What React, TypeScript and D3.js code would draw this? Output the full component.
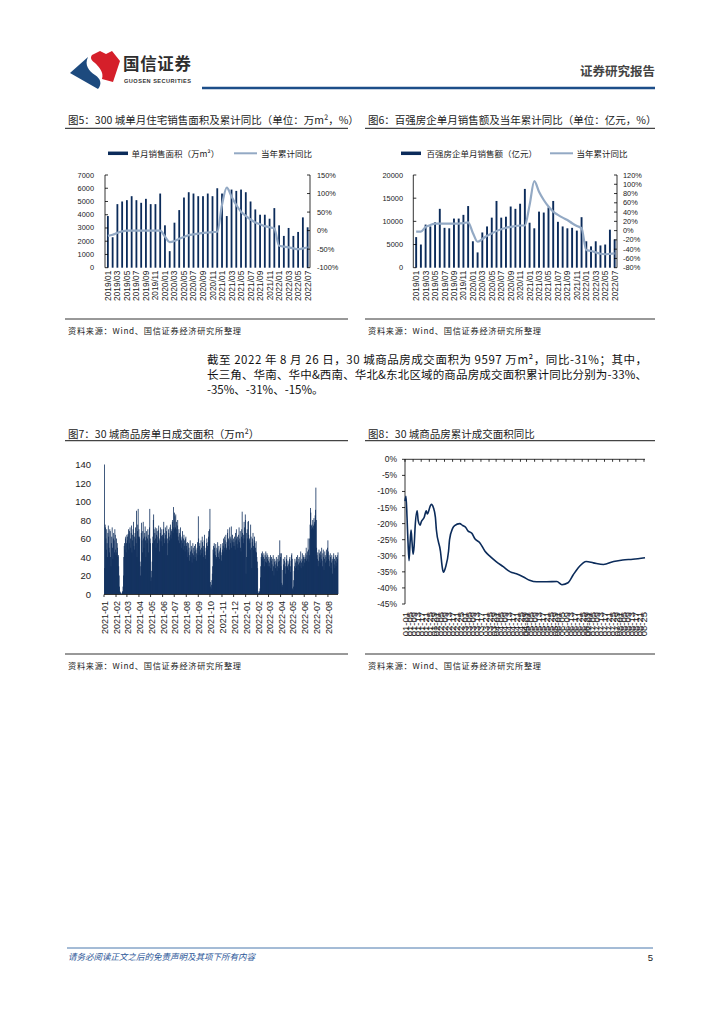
import React from 'react';
import * as d3 from 'd3';

const CJK = "'Noto Sans CJK SC','Noto Sans',sans-serif";
const NUM = "'Liberation Sans','Noto Sans CJK SC',sans-serif";
const NAVY = '#0b2b5a';
const LIGHT = '#93a9c4';
const TXT = '#222';

// ---------- Fig 5 / Fig 6 categories ----------
const months = [
  '2019/01','2019/02','2019/03','2019/04','2019/05','2019/06','2019/07','2019/08','2019/09','2019/10','2019/11','2019/12',
  '2020/01','2020/02','2020/03','2020/04','2020/05','2020/06','2020/07','2020/08','2020/09','2020/10','2020/11','2020/12',
  '2021/01','2021/02','2021/03','2021/04','2021/05','2021/06','2021/07','2021/08','2021/09','2021/10','2021/11','2021/12',
  '2022/01','2022/02','2022/03','2022/04','2022/05','2022/06','2022/07',
];

// Fig 5: 300 cities monthly residential sales area (万㎡) and YTD yoy (%)
const area300 = [
  3900, 2300, 4800, 5000, 5100, 5400, 5100, 4900, 5200, 4800, 4800, 5600,
  3200, 1250, 3400, 4350, 5300, 5700, 5600, 5400, 5400, 5600, 5400, 6000,
  5600, 3900, 5900, 5800, 5900, 5700, 5000, 4400, 4000, 4000, 3700, 4500,
  3200, 2400, 3000, 2400, 2700, 3800, 3050,
];
const yoy300 = [
  -14, -11, -6, -2, 0, 0, 0, 0, 0, 0, 0, 0,
  -16, -31, -28, -22, -17, -12, -10, -8, -6, -5, -4, -3,
  70, 116, 92, 69, 51, 40, 30, 22, 17, 12, 9, 6,
  -41, -43, -45, -48, -50, -48, -45,
];

// Fig 6: top-100 developers monthly sales (亿元) and YTD yoy (%)
const sales100 = [
  6600, 5000, 9300, 8900, 9800, 12700, 8600, 8500, 10600, 10600, 11400, 13300,
  5700, 3300, 7600, 8900, 10800, 14400, 10800, 11000, 13200, 12700, 13800, 17000,
  9700, 8500, 12100, 11900, 13000, 14400, 9900, 8900, 8500, 8600, 8000, 10900,
  5700, 4600, 5700, 4800, 5000, 8200, 6100,
];
const yoy100 = [
  -2, -2, 8, 12, 15, 15, 15, 15, 15, 15, 16, 18,
  -5, -24, -18, -11, -6, -1, 3, 6, 8, 10, 11, 11,
  55, 107, 84, 66, 52, 41, 34, 28, 23, 16, 10, 5,
  -42, -44, -47, -50, -51, -50, -49,
];

// ---------- Fig 7: 30 cities daily transaction area (万㎡) from 2021-01-01 ----------
const daily2021 = [
  140, 28, 75, 72, 60, 48, 70, 55, 40, 66, 74, 62, 50, 45, 70, 68, 40, 30, 55, 62, 72, 50, 38, 60, 66, 58, 45, 70, 64, 48, 42,
  60, 45, 55, 50, 40, 42, 30, 20, 8, 3, 2, 1, 0, 0, 1, 2, 3, 8, 20, 40, 52, 55, 48, 60, 62, 45, 55, 64,
  58, 62, 65, 70, 48, 55, 68, 72, 60, 50, 66, 74, 45, 58, 64, 70, 78, 52, 62, 48, 66, 72, 60, 55, 90, 40, 68, 75, 92, 62, 70,
  62, 60, 35, 20, 30, 66, 77, 58, 45, 68, 78, 60, 50, 62, 66, 73, 58, 40, 62, 68, 55, 60, 70, 64, 45, 58, 72, 92, 60, 55,
  14, 18, 25, 35, 55, 62, 80, 86, 70, 58, 66, 72, 60, 50, 64, 71, 68, 55, 62, 69, 74, 58, 46, 60, 66, 72, 57, 63, 70, 52, 64,
  62, 70, 78, 66, 55, 60, 72, 64, 58, 68, 74, 60, 42, 55, 70, 66, 62, 58, 72, 75, 64, 60, 68, 70, 78, 80, 66, 94, 72, 70,
  88, 84, 72, 86, 70, 78, 66, 74, 80, 62, 58, 70, 66, 55, 64, 72, 60, 50, 58, 62, 68, 55, 48, 60, 64, 58, 52, 46, 60, 62, 55,
  52, 48, 56, 40, 45, 55, 50, 36, 42, 58, 46, 40, 52, 48, 34, 44, 55, 50, 42, 38, 52, 46, 40, 54, 48, 36, 44, 50, 56, 42, 84,
  60, 46, 52, 55, 42, 48, 58, 50, 44, 62, 56, 48, 40, 52, 58, 64, 46, 42, 38, 50, 55, 60, 48, 52, 56, 62, 68, 58, 70, 92,
  13, 8, 6, 10, 15, 22, 30, 48, 52, 44, 55, 50, 46, 42, 54, 38, 40, 50, 48, 56, 44, 40, 52, 46, 38, 48, 50, 54, 42, 36, 45,
  48, 55, 52, 60, 46, 50, 62, 58, 54, 64, 50, 48, 56, 66, 70, 52, 60, 58, 48, 72, 62, 55, 60, 73, 50, 58, 64, 56, 52, 60,
  56, 62, 52, 48, 66, 58, 70, 60, 54, 62, 50, 58, 64, 72, 56, 60, 68, 50, 46, 62, 70, 89, 66, 60, 55, 64, 78, 72, 60, 86, 80,
];
const daily2022 = [
  22, 40, 66, 70, 60, 78, 79, 64, 58, 60, 55, 48, 75, 62, 50, 28, 56, 60, 66, 52, 48, 58, 62, 55, 50, 46, 57, 45, 40, 35, 28,
  3, 1, 1, 2, 3, 6, 18, 30, 40, 44, 38, 46, 42, 36, 40, 44, 30, 38, 42, 35, 46, 40, 34, 44, 38, 42, 30, 36,
  40, 34, 30, 38, 42, 28, 36, 40, 32, 25, 38, 42, 30, 20, 35, 38, 32, 28, 36, 40, 34, 25, 30, 38, 42, 35, 28, 36, 58, 44, 40,
  30, 44, 12, 8, 10, 26, 38, 32, 28, 36, 40, 30, 22, 34, 38, 42, 28, 30, 36, 32, 26, 34, 38, 40, 30, 24, 36, 42, 44, 38,
  6, 4, 8, 15, 25, 30, 38, 34, 28, 36, 40, 30, 35, 42, 26, 32, 38, 40, 34, 30, 36, 46, 28, 34, 38, 44, 36, 30, 40, 42, 38,
  34, 40, 38, 44, 50, 36, 42, 46, 38, 60, 48, 35, 42, 60, 75, 93, 88, 70, 74, 75, 72, 80, 70, 74, 82, 76, 78, 85, 91, 115,
  80, 50, 42, 38, 45, 30, 36, 48, 44, 40, 34, 46, 42, 38, 50, 36, 30, 44, 48, 40, 26, 38, 46, 42, 34, 40, 48, 36, 44, 50, 58,
  46, 38, 42, 30, 36, 44, 40, 28, 34, 42, 38, 22, 36, 40, 44, 32, 38, 28, 42, 36, 30, 40, 34, 42, 38, 45,
];
const monthTicks7 = [
  '2021-01','2021-02','2021-03','2021-04','2021-05','2021-06','2021-07','2021-08','2021-09','2021-10',
  '2021-11','2021-12','2022-01','2022-02','2022-03','2022-04','2022-05','2022-06','2022-07','2022-08',
];
const yTicks7 = [0, 20, 40, 60, 80, 100, 120, 140];

// ---------- Fig 8: 30 cities cumulative area yoy (%) in 2022, day offsets from 01-01 ----------
const yoyDay = [0, 1, 2, 3, 4, 5, 6, 7, 8, 9, 10, 12, 13, 15, 16, 19, 21, 22, 25, 26, 28, 30, 31, 35, 37, 38, 40, 43, 44, 47, 49, 54, 57, 60, 62, 66, 69, 74, 79, 84, 90, 97, 104, 110, 117, 123, 130, 140, 150, 155, 161, 166, 172, 179, 186, 196, 206, 215, 225, 237];
const yoyVal = [-13, -11.5, -18, -26, -31.5, -26, -22, -26, -29.5, -27, -21, -16, -19, -20.5, -19.5, -18, -16, -17, -14.5, -14, -15, -18, -22, -28.6, -34, -35.1, -33.6, -28.6, -25, -21.5, -20.6, -20, -20.6, -21.2, -22.2, -23, -24.7, -26, -28.6, -30.2, -31.8, -33.4, -35, -35.6, -36.6, -37.6, -38.1, -38.1, -38, -39, -38.4, -36, -33.4, -31.8, -32.2, -32.7, -31.8, -31.3, -31.1, -30.6];
const yTicks8 = [0, -5, -10, -15, -20, -25, -30, -35, -40, -45];

// ---------- Texts ----------
const title5 = '图5：300 城单月住宅销售面积及累计同比（单位：万m²，%）';
const title6 = '图6：百强房企单月销售额及当年累计同比（单位：亿元，%）';
const title7 = '图7：30 城商品房单日成交面积（万m²）';
const title8 = '图8：30 城商品房累计成交面积同比';
const legend5 = ['单月销售面积（万m²）', '当年累计同比'];
const legend6 = ['百强房企单月销售额（亿元）', '当年累计同比'];
const source = '资料来源：Wind、国信证券经济研究所整理';
const para = [
  '截至 2022 年 8 月 26 日，30 城商品房成交面积为 9597 万m²，同比-31%；其中，',
  '长三角、华南、华中&西南、华北&东北区域的商品房成交面积累计同比分别为-33%、',
  '-35%、-31%、-15%。',
];

type ComboCfg = {
  bars: number[]; line: number[];
  x0: number; x1: number; yTop: number; yBottom: number;
  leftDomain: [number, number]; leftStep: number;
  rightDomain: [number, number]; rightStep: number;
  leftLabelX: number; rightLabelX: number; barW: number;
};

function Combo({ c }: { c: ComboCfg }) {
  const x = d3.scaleBand<string>().domain(months).range([c.x0 + 0.5, c.x1]);
  const yL = d3.scaleLinear().domain(c.leftDomain).range([c.yBottom, c.yTop]);
  const yR = d3.scaleLinear().domain(c.rightDomain).range([c.yBottom, c.yTop]);
  const cx = (m: string) => (x(m) ?? 0) + x.bandwidth() / 2;
  const path = d3.line<number>().x((_, i) => cx(months[i])).y(d => yR(d)).curve(d3.curveMonotoneX)(c.line) || '';
  const lt = d3.range(c.leftDomain[0], c.leftDomain[1] + 1, c.leftStep);
  const rt = d3.range(c.rightDomain[0], c.rightDomain[1] + 1, c.rightStep);
  return (
    <g>
      {c.bars.map((v, i) => (
        <rect key={i} x={cx(months[i]) - c.barW / 2} y={yL(v)} width={c.barW} height={yL(0) - yL(v)} fill={NAVY} />
      ))}
      <path d={path} fill="none" stroke={LIGHT} strokeWidth={2.2} />
      <line x1={c.x0} x2={c.x0} y1={c.yTop} y2={c.yBottom} stroke="#000" strokeWidth={0.8} />
      {lt.map(v => (
        <g key={'l' + v}>
          <line x1={c.x0} x2={c.x0 + 3} y1={yL(v)} y2={yL(v)} stroke="#000" strokeWidth={0.8} />
          <text x={c.leftLabelX} y={yL(v)} textAnchor="end" dominantBaseline="central" fontSize={7.4} fontFamily={NUM} fill={TXT}>{v}</text>
        </g>
      ))}
      <line x1={c.x1} x2={c.x1} y1={c.yTop} y2={c.yBottom} stroke="#000" strokeWidth={0.8} />
      {rt.map(v => (
        <g key={'r' + v}>
          <line x1={c.x1 - 3} x2={c.x1} y1={yR(v)} y2={yR(v)} stroke="#000" strokeWidth={0.8} />
          <text x={c.rightLabelX} y={yR(v)} textAnchor="start" dominantBaseline="central" fontSize={7.4} fontFamily={NUM} fill={TXT}>{v + '%'}</text>
        </g>
      ))}
      {months.map((m, i) => i % 2 === 0 ? (
        <text key={m} transform={`translate(${cx(m)},${c.yBottom + 3}) rotate(-90)`} textAnchor="end" dominantBaseline="central" fontSize={8.4} fontFamily={NUM} fill={TXT}>{m}</text>
      ) : null)}
    </g>
  );
}

function Legend({ x1, x2, x3, x4, y, labels }: { x1: number; x2: number; x3: number; x4: number; y: number; labels: string[] }) {
  return (
    <g>
      <line x1={x1} x2={x1 + 20} y1={y} y2={y} stroke={NAVY} strokeWidth={3.5} />
      <text x={x2} y={y} dominantBaseline="central" fontSize={8.5} fontFamily={CJK} fill={TXT}>{labels[0]}</text>
      <line x1={x3} x2={x3 + 23} y1={y} y2={y} stroke={LIGHT} strokeWidth={2} />
      <text x={x4} y={y} dominantBaseline="central" fontSize={8.5} fontFamily={CJK} fill={TXT}>{labels[1]}</text>
    </g>
  );
}

function Title({ x, y, lineY, x0, x1, text }: { x: number; y: number; lineY: number; x0: number; x1: number; text: string }) {
  return (
    <g>
      <text x={x} y={y} dominantBaseline="central" fontSize={10.5} fontFamily={CJK} fill={TXT}>{text}</text>
      <line x1={x0} x2={x1} y1={lineY} y2={lineY} stroke="#444" strokeWidth={1.3} />
    </g>
  );
}

function Source({ x, lineY, x0, x1 }: { x: number; lineY: number; x0: number; x1: number }) {
  return (
    <g>
      <line x1={x0} x2={x1} y1={lineY} y2={lineY} stroke="#333" strokeWidth={1} />
      <text x={x} y={lineY + 11} dominantBaseline="central" fontSize={8.2} fontFamily={CJK} fill={TXT} textLength={173} lengthAdjust="spacing">{source}</text>
    </g>
  );
}

function Fig7() {
  const daily = [...daily2021, ...daily2022];
  const start = new Date(2021, 0, 1);
  const end = d3.timeDay.offset(start, daily.length);
  const x = d3.scaleTime().domain([start, end]).range([104, 338]);
  const y = d3.scaleLinear().domain([0, 140]).range([594, 464.5]);
  const step = x(d3.timeDay.offset(start, 1)) - x(start);
  const parse = d3.timeParse('%Y-%m');
  return (
    <g>
      {daily.map((v, i) => {
        const d = d3.timeDay.offset(start, i);
        return <rect key={i} x={x(d)} y={y(v)} width={step * 2} height={y(0) - y(v)} fill={NAVY} />;
      })}
      <line x1={104} x2={338} y1={594.5} y2={594.5} stroke="#000" strokeWidth={0.8} />
      {monthTicks7.map(m => {
        const xm = x(parse(m) as Date);
        return (
          <g key={m}>
            <line x1={xm} x2={xm} y1={594.5} y2={597} stroke="#000" strokeWidth={0.8} />
            <text transform={`translate(${xm + 1},${601}) rotate(-90)`} textAnchor="end" dominantBaseline="central" fontSize={9} fontFamily={NUM} fill={TXT}>{m}</text>
          </g>
        );
      })}
      {yTicks7.map(v => (
        <text key={v} x={91} y={y(v)} textAnchor="end" dominantBaseline="central" fontSize={9.5} fontFamily={NUM} fill={TXT}>{v}</text>
      ))}
    </g>
  );
}

function Fig8() {
  const start = new Date(2022, 0, 1);
  const end = new Date(2022, 7, 26);
  const x = d3.scaleTime().domain([start, end]).range([405, 645]);
  const y = d3.scaleLinear().domain([-45, 0]).range([604, 459.3]);
  const path = d3.line<number>()
    .x((_, i) => x(d3.timeDay.offset(start, yoyDay[i])))
    .y(d => y(d))
    .curve(d3.curveMonotoneX)(yoyVal) || '';
  const tickDates = d3.timeDay.every(8)!.range(start, d3.timeDay.offset(end, 1));
  const labelDates = d3.timeDay.every(4)!.range(start, d3.timeDay.offset(end, 1));
  const fmt = d3.timeFormat('%m-%d');
  return (
    <g>
      <line x1={405} x2={645} y1={y(0)} y2={y(0)} stroke="#000" strokeWidth={0.8} />
      {tickDates.map((d, i) => (
        <line key={i} x1={x(d)} x2={x(d)} y1={y(0)} y2={y(0) + 2.5} stroke="#000" strokeWidth={0.8} />
      ))}
      <line x1={405} x2={405} y1={459.3} y2={604} stroke="#000" strokeWidth={0.8} />
      {yTicks8.map(v => (
        <g key={v}>
          <line x1={402} x2={405} y1={y(v)} y2={y(v)} stroke="#000" strokeWidth={0.8} />
          <text x={397} y={y(v)} textAnchor="end" dominantBaseline="central" fontSize={8.5} fontFamily={NUM} fill={TXT}>{v + '%'}</text>
        </g>
      ))}
      <path d={path} fill="none" stroke={NAVY} strokeWidth={1.6} />
      {labelDates.map((d, i) => (
        <text key={i} transform={`translate(${x(d)},${612}) rotate(-90)`} textAnchor="end" dominantBaseline="central" fontSize={9.5} fontFamily={NUM} fill={TXT}>{fmt(d)}</text>
      ))}
    </g>
  );
}

export default function App() {
  const c5: ComboCfg = {
    bars: area300, line: yoy300, x0: 105, x1: 310, yTop: 175, yBottom: 267.7,
    leftDomain: [0, 7000], leftStep: 1000, rightDomain: [-100, 150], rightStep: 50,
    leftLabelX: 94, rightLabelX: 317, barW: 1.8,
  };
  const c6: ComboCfg = {
    bars: sales100, line: yoy100, x0: 413.3, x1: 617, yTop: 175, yBottom: 267.7,
    leftDomain: [0, 20000], leftStep: 5000, rightDomain: [-80, 120], rightStep: 20,
    leftLabelX: 403, rightLabelX: 623, barW: 1.9,
  };
  return (
    <svg width={724} height={1024} viewBox="0 0 724 1024" style={{ position: 'absolute', left: 0, top: 0, background: '#fff' }}>
      <rect x={0} y={0} width={724} height={1024} fill="#fff" />
      {/* Header */}
      <g>
        <path d="M70,73 L88,57 C84,65 89,71 95,75 C101,79 102,84 98,89 Z" fill="#1d4a7e" />
        <path d="M92,55 L100,51 L106,54 L112,51 L120,61 L113,82 L102,79 C104,72 99,67 95,63 C91,60 90,58 92,55 Z" fill="#d51f2a" />
        <text x={123} y={70} fontSize={16.5} fontWeight={700} fontFamily={CJK} fill="#2e2e2e" textLength={68} lengthAdjust="spacing">国信证券</text>
        <text x={124} y={83} fontSize={5.6} fontWeight={700} fontFamily={NUM} fill="#333" textLength={67} lengthAdjust="spacing">GUOSEN SECURITIES</text>
        <text x={655} y={76} textAnchor="end" fontSize={12.5} fontWeight={700} fontFamily={CJK} fill="#444">证券研究报告</text>
        <line x1={202} x2={655} y1={88} y2={88} stroke="#1d4e89" strokeWidth={2.5} />
      </g>

      {/* Fig 5 */}
      <Title x={68} y={119} lineY={128.3} x0={65} x1={348} text={title5} />
      <Legend x1={108} x2={131.5} x3={234} x4={261} y={153.3} labels={legend5} />
      <Combo c={c5} />
      <Source x={68} lineY={319} x0={65} x1={348} />

      {/* Fig 6 */}
      <Title x={368} y={119} lineY={128.3} x0={365} x1={655} text={title6} />
      <Legend x1={401} x2={426.5} x3={550} x4={576.5} y={153.3} labels={legend6} />
      <Combo c={c6} />
      <Source x={368} lineY={319} x0={365} x1={655} />

      {/* Paragraph */}
      <g fontFamily={CJK} fontSize={11.5} fill="#111">
        <text x={207} y={364} textLength={440} lengthAdjust="spacing">{para[0]}</text>
        <text x={207} y={379} textLength={440} lengthAdjust="spacing">{para[1]}</text>
        <text x={207} y={393.5}>{para[2]}</text>
      </g>

      {/* Fig 7 */}
      <Title x={68} y={433} lineY={440.7} x0={65} x1={348} text={title7} />
      <Fig7 />
      <Source x={68} lineY={654} x0={65} x1={348} />

      {/* Fig 8 */}
      <Title x={368} y={433} lineY={440.7} x0={365} x1={655} text={title8} />
      <Fig8 />
      <Source x={368} lineY={654} x0={365} x1={655} />

      {/* Footer */}
      <line x1={67} x2={653} y1={948} y2={948} stroke="#4a78ad" strokeWidth={1} />
      <text x={68} y={960} fontSize={8.5} fontStyle="italic" fontFamily={CJK} fill="#2a5597">请务必阅读正文之后的免责声明及其项下所有内容</text>
      <text x={653} y={961} textAnchor="end" fontSize={9.5} fontFamily={NUM} fill="#222">5</text>
    </svg>
  );
}
